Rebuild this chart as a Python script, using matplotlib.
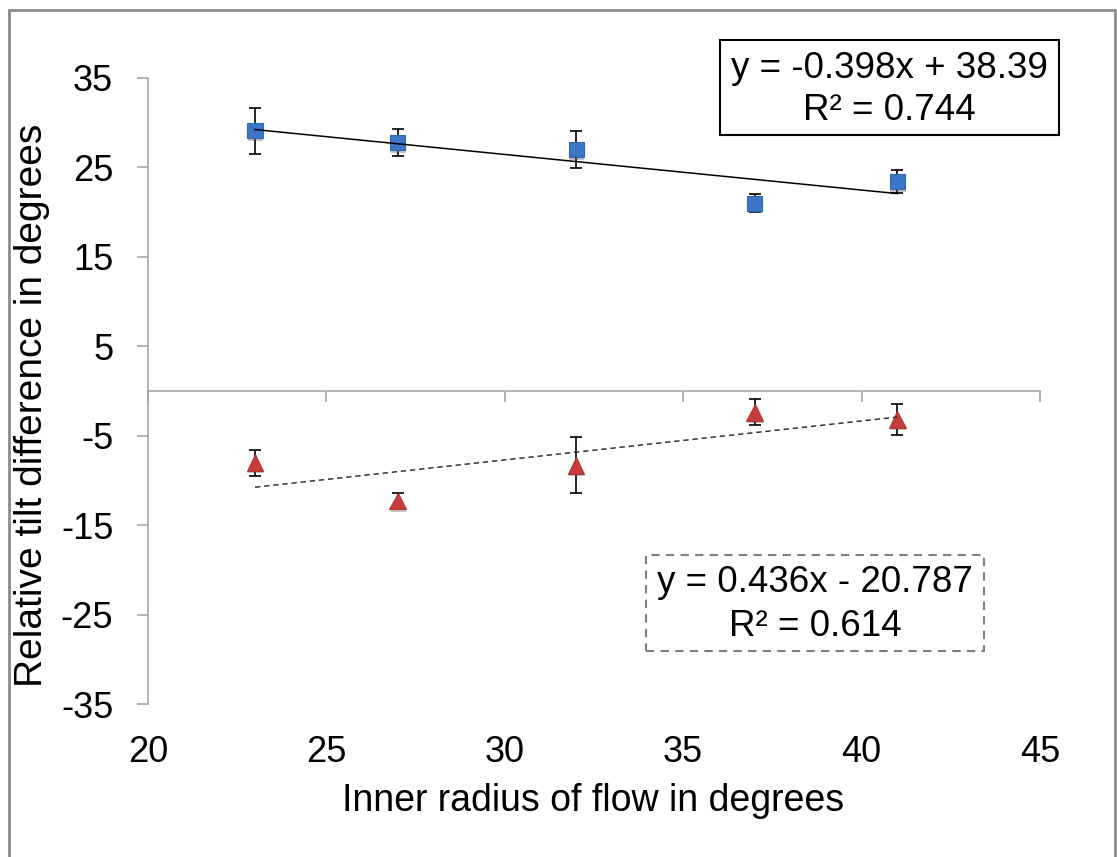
import matplotlib
matplotlib.use("Agg")
import matplotlib.pyplot as plt
import matplotlib.patheffects as pe
from matplotlib.patches import Rectangle
import numpy as np

plt.rcParams['font.family'] = ['Liberation Sans', 'DejaVu Sans']
plt.rcParams['axes.unicode_minus'] = False

# Inner radius of the flow (degrees)
radius = [23, 27, 32, 37, 41]

# Positive-tilt series (squares) with error bar half-widths
tilt_pos = [29.1, 27.8, 27.0, 21.0, 23.4]
err_pos = [2.6, 1.5, 2.1, 1.0, 1.3]

# Negative-tilt series (triangles) with error bar half-widths
tilt_neg = [-8.0, -12.3, -8.3, -2.4, -3.2]
err_neg = [1.45, 0.95, 3.15, 1.45, 1.75]

# Linear trend coefficients (slope, intercept) and R^2 values
fit_pos = (-0.398, 38.39)
fit_neg = (0.436, -20.787)
r2_pos = 0.744
r2_neg = 0.614

x_ticks = [20, 25, 30, 35, 40, 45]
y_ticks = [-35, -25, -15, -5, 5, 15, 25, 35]

W, H = 1117, 857
fig = plt.figure(figsize=(W / 100, H / 100), dpi=100)

def fx(px):
    return px / W

def fy(py):
    return 1 - py / H

FS = 26

left, right, top, bottom = 148, 1040, 78, 704
ax = fig.add_axes([fx(left), fy(bottom), fx(right - left), (bottom - top) / H])

axis_gray = '#a6a6a6'
ax.set_xlim(20, 45)
ax.set_ylim(-35, 35)

for s in ('top', 'right'):
    ax.spines[s].set_visible(False)
ax.spines['left'].set_color(axis_gray)
ax.spines['left'].set_linewidth(1.2)
ax.spines['bottom'].set_position(('data', 0))
ax.spines['bottom'].set_color(axis_gray)
ax.spines['bottom'].set_linewidth(1.2)

ax.set_xticks(x_ticks)
ax.set_yticks(y_ticks)
ax.tick_params(axis='x', direction='out', length=8, width=1.2, color=axis_gray,
               labelbottom=False)
ax.tick_params(axis='y', direction='out', length=8, width=1.2, color=axis_gray,
               labelsize=FS, pad=17)

# x tick labels sit along the bottom edge of the plot area
sec = ax.secondary_xaxis('bottom')
sec.spines['bottom'].set_visible(False)
sec.set_xticks(x_ticks)
sec.tick_params(length=0, labelsize=FS, pad=22)

fig.text(fx(593), fy(801), 'Inner radius of flow in degrees', fontsize=27,
         ha='center', va='center')
fig.text(fx(32), fy(405), 'Relative tilt difference in degrees', fontsize=28,
         ha='center', va='center', rotation=90)

shadow = [pe.SimplePatchShadow(offset=(0.5, -1.8), shadow_rgbFace='#555555', alpha=0.35),
          pe.Normal()]

# error bars
ax.errorbar(radius, tilt_pos, yerr=err_pos, fmt='none', ecolor='black',
            elinewidth=1.2, capsize=4.5, capthick=1.2, zorder=3)
ax.errorbar(radius, tilt_neg, yerr=err_neg, fmt='none', ecolor='black',
            elinewidth=1.2, capsize=4.5, capthick=1.2, zorder=3)

# markers
ax.plot(radius, tilt_pos, linestyle='none', marker='s', markersize=11,
        markerfacecolor='#3b77c6', markeredgecolor='#3068b0', markeredgewidth=0.8,
        zorder=4, path_effects=shadow)
ax.plot(radius, tilt_neg, linestyle='none', marker='^', markersize=12,
        markerfacecolor='#c63d3b', markeredgecolor='#b23432', markeredgewidth=0.8,
        zorder=4, path_effects=shadow)

# linear trend lines over the sampled range
xr = np.array([min(radius), max(radius)])
ax.plot(xr, fit_pos[0] * xr + fit_pos[1], color='black', linewidth=1.1, zorder=5)
ax.plot(xr, fit_neg[0] * xr + fit_neg[1], color='#333333', linewidth=1.1,
        linestyle=(0, (3.5, 2.5)), zorder=5)

# trend equation boxes
def eq_text(slope, intercept):
    sign = '+' if intercept >= 0 else '-'
    return f'y = {slope:.3f}x {sign} {abs(intercept):.{2 if sign == "+" else 3}f}'

EQ_FS = 26.5

box1 = Rectangle((fx(720), fy(135)), fx(1059 - 720), (135 - 40) / H,
                 transform=fig.transFigure, fill=False, edgecolor='black', linewidth=1.5)
fig.patches.append(box1)
fig.text(fx(889), fy(68), eq_text(*fit_pos), ha='center', va='center', fontsize=EQ_FS)
fig.text(fx(889), fy(110), f'R² = {r2_pos:.3f}', ha='center', va='center', fontsize=EQ_FS)

box2 = Rectangle((fx(646), fy(651)), fx(984 - 646), (651 - 555) / H,
                 transform=fig.transFigure, fill=False, edgecolor='#7f7f7f',
                 linewidth=1.5, linestyle=(0, (4, 3)))
fig.patches.append(box2)
fig.text(fx(815), fy(583), eq_text(*fit_neg), ha='center', va='center', fontsize=EQ_FS)
fig.text(fx(815), fy(627), f'R² = {r2_neg:.3f}', ha='center', va='center', fontsize=EQ_FS)

# chart-area frame
frame = Rectangle((fx(9), -0.05), fx(1115 - 9), fy(10) + 0.05,
                  transform=fig.transFigure, fill=False, edgecolor='#8c8c8c',
                  linewidth=2.0, clip_on=False)
fig.patches.append(frame)

fig.savefig('out.png', dpi=100)
